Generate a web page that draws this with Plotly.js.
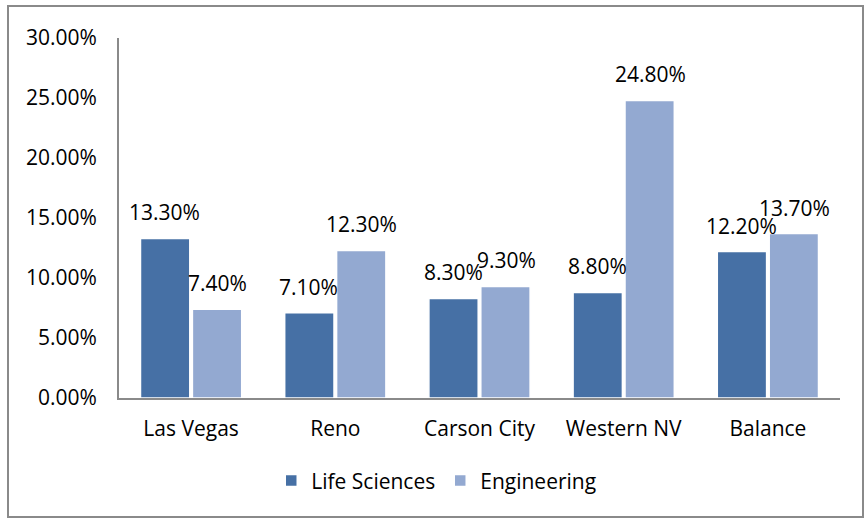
<!DOCTYPE html>
<html>
<head>
<meta charset="utf-8">
<script src="https://cdn.plot.ly/plotly-3.0.1.min.js"></script>
<style>
  html, body { margin: 0; padding: 0; background: #fff; }
  #wrap { position: relative; width: 868px; height: 520px; }
  #chart { position: absolute; left: 0; top: 0; width: 868px; height: 520px; }
  #frame { position: absolute; left: 7px; top: 5px; width: 853px; height: 509px; border: 2px solid #8a8a8a; pointer-events: none; }
</style>
</head>
<body>
<div id="wrap">
  <div id="chart"></div>
  <div id="frame"></div>
</div>
<script>
const categories = ["Las Vegas", "Reno", "Carson City", "Western NV", "Balance"];
const lifeSciences = [13.3, 7.1, 8.3, 8.8, 12.2];
const engineering = [7.4, 12.3, 9.3, 24.8, 13.7];
const seriesNames = ["Life Sciences", "Engineering"];
const yTicks = [0, 5, 10, 15, 20, 25, 30];
const yTickText = yTicks.map(v => v.toFixed(2) + "%");

const FONT = "'Open Sans', sans-serif";
const colors = ["#4670A5", "#93A9D1"];
const fs = 21;

const traces = [lifeSciences, engineering].map((vals, i) => ({
  type: "bar",
  name: seriesNames[i],
  x: categories,
  y: vals,
  marker: { color: colors[i], line: { color: "#ffffff", width: 1.5 } },
  hoverinfo: "x+y"
}));

const annotations = [];
[lifeSciences, engineering].forEach((vals, i) => {
  vals.forEach((v, j) => {
    annotations.push({
      x: categories[j], y: v, xref: "x", yref: "y",
      text: v.toFixed(2) + "%",
      showarrow: false,
      xshift: i === 0 ? -26.5 : 26.5,
      yshift: 26,
      yanchor: "middle", xanchor: "center",
      font: { family: FONT, size: fs, color: "#000" }
    });
  });
});

const layout = {
  width: 868, height: 520,
  margin: { l: 119, r: 28, t: 38, b: 122 },
  paper_bgcolor: "#ffffff", plot_bgcolor: "#ffffff",
  font: { family: FONT, size: fs, color: "#000" },
  barmode: "group",
  bargap: 0.28,
  bargroupgap: 0.05,
  showlegend: true,
  legend: {
    orientation: "h", x: 0.44, xanchor: "center", y: -0.23, yanchor: "middle",
    font: { family: FONT, size: fs, color: "#000" },
    itemwidth: 30
  },
  xaxis: {
    showgrid: false, zeroline: false,
    showline: true, linecolor: "#8a8a8a", linewidth: 2,
    ticks: "outside", ticklen: 11, tickcolor: "rgba(0,0,0,0)",
    tickfont: { family: FONT, size: fs, color: "#000" }
  },
  yaxis: {
    range: [0, 30],
    tickvals: yTicks,
    ticktext: yTickText,
    showgrid: false, zeroline: false,
    showline: true, linecolor: "#8a8a8a", linewidth: 2,
    ticks: "outside", ticklen: 16, tickcolor: "rgba(0,0,0,0)",
    tickfont: { family: FONT, size: fs, color: "#000" }
  },
  annotations: annotations
};

Plotly.newPlot("chart", traces, layout, { displayModeBar: false, staticPlot: true });
</script>
</body>
</html>
